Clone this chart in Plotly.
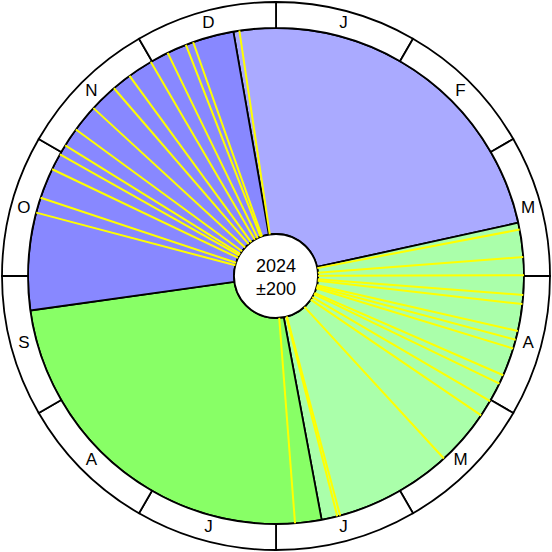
import plotly.graph_objects as go

# quarter sectors (angles in degrees, clockwise from top)
quarters = ["Q1", "Q2", "Q3", "Q4"]
quarter_start = [350.1, 77.6, 169.4, 262.0]
quarter_end = [437.6, 169.4, 262.0, 350.1]
quarter_colors = ["#aaaaff", "#aaffaa", "#88ff66", "#8888ff"]

# event lines (degrees)
events = [351.5, 79.2, 85.6, 89.8, 94.4, 96.5, 102.8, 104.9, 107.0, 113.6,
          115.7, 120.3, 124.2, 137.4, 165.0, 165.7, 175.6,
          284.8, 288.4, 295.5, 299.4, 301.8, 306.2, 312.6, 319.2, 323.8,
          329.7, 334.1, 338.7, 340.5]

months = ["J", "F", "M", "A", "M", "J", "J", "A", "S", "O", "N", "D"]

center_label = "2024<br>±200"

HOLE = 42
PIE_R = 248
RING_R = 274

fig = go.Figure()

# quarter wedges
fig.add_trace(go.Barpolar(
    theta=[(s + e) / 2 for s, e in zip(quarter_start, quarter_end)],
    width=[e - s for s, e in zip(quarter_start, quarter_end)],
    r=[PIE_R - HOLE] * len(quarters),
    base=HOLE,
    marker=dict(color=quarter_colors, line=dict(color="black", width=1.8)),
    hoverinfo="skip",
))

# yellow event lines
rr, tt = [], []
for a in events:
    rr += [HOLE, PIE_R, None]
    tt += [a, a, None]
fig.add_trace(go.Scatterpolar(
    r=rr, theta=tt, mode="lines",
    line=dict(color="#ffff00", width=2),
    hoverinfo="skip",
))

# month ring
fig.add_trace(go.Barpolar(
    theta=[15 + 30 * i for i in range(12)],
    width=[30] * 12,
    r=[RING_R - PIE_R] * 12,
    base=PIE_R,
    marker=dict(color="white", line=dict(color="black", width=1.8)),
    hoverinfo="skip",
))

fig.add_trace(go.Scatterpolar(
    r=[(PIE_R + RING_R) / 2] * 12,
    theta=[15 + 30 * i for i in range(12)],
    mode="text",
    text=months,
    textfont=dict(family="Liberation Sans, Arial", size=17, color="black"),
    hoverinfo="skip",
))

# centre disc
fig.add_trace(go.Barpolar(
    theta=[0], width=[360], r=[HOLE], base=0,
    marker=dict(color="white", line=dict(color="black", width=1.8)),
    hoverinfo="skip",
))

fig.update_layout(
    width=552, height=552,
    margin=dict(l=0, r=0, t=0, b=0),
    paper_bgcolor="white",
    showlegend=False,
    polar=dict(
        domain=dict(x=[0, 1], y=[0, 1]),
        bgcolor="white",
        radialaxis=dict(range=[0, 276], visible=False),
        angularaxis=dict(rotation=90, direction="clockwise", visible=False),
    ),
    annotations=[dict(
        text=center_label, x=0.5, y=0.497, xref="paper", yref="paper",
        showarrow=False, font=dict(family="Liberation Sans, Arial", size=18, color="black"),
    )],
)

fig.write_html("out.html", config={"displayModeBar": False},
               post_script="document.body.style.margin='0';")
